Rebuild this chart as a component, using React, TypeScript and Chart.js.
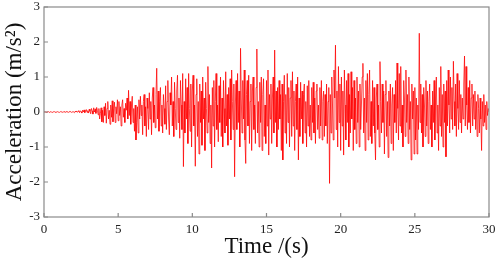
import React, { useEffect, useRef } from "react";
import { Chart, registerables } from "chart.js";

Chart.register(...registerables);

// Sampling interval of the record (s)
const DT = 0.05;

// Acceleration (m/s²), one row per second of record
const acc0_5 = [
  0, 0.01, 0, -0.01, 0.01, 0, 0.01, -0.01, 0, 0.01, 0, -0.01, 0, 0.01, 0.01, 0, -0.01, 0, 0.01, 0,
  0, -0.01, 0.01, 0, 0.01, -0.01, 0, 0.01, 0, -0.01, 0.01, 0, 0, -0.01, 0.01, 0, 0.01, -0.01, 0, 0.01,
  0, -0.02, 0.02, 0, 0.03, -0.01, 0.02, 0.04, -0.02, 0.03, 0.01, -0.03, 0.05, 0, 0.06, -0.02, 0.03, 0.07, -0.01, 0.04,
  -0.03, 0.08, 0.02, -0.05, 0.1, 0.03, -0.06, 0.12, 0, 0.09, -0.04, 0.13, 0.05, -0.08, 0.1, -0.2, -0.05, 0.12, -0.28, 0.05,
  -0.3, 0.15, -0.1, 0.25, -0.32, 0.1, 0.3, -0.2, 0.05, -0.35, 0.2, -0.15, 0.32, -0.28, 0.1, 0.28, -0.3, 0.15, -0.05, 0.35,
];
const acc5_10 = [
  -0.25, 0.3, -0.1, 0.15, -0.4, 0.2, 0.35, -0.15, 0.1, -0.3, 0.25, 0.05, 0.4, -0.2, 0.62, -0.1, 0.3, -0.35, 0.2, 0.45,
  -0.3, 0.1, -0.55, 0.2, -0.8, -0.3, 0.15, -0.6, 0.35, -0.2, 0.45, -0.1, 0.2, -0.65, 0.3, 0.5, -0.4, 0.15, -0.7, 0.4,
  0.1, -0.5, 0.55, -0.2, 0.3, -0.65, 0.4, 0.7, -0.3, 0.2, -0.45, 0.5, 1.25, -0.2, 0.6, -0.55, 0.3, 0.7, -0.4, 0.2,
  -0.6, 0.5, 0.1, -0.35, 0.75, -0.5, 0.3, 0.9, -0.2, -0.65, 0.55, 0.2, 1.0, -0.4, 0.3, -0.7, 0.85, 0.1, -0.5, 0.6,
  1.05, -0.3, 0.4, -0.75, 0.9, 0.2, -0.5, 1.1, -1.56, 0.3, -0.6, 0.95, -0.2, 0.7, -0.9, 1.1, 0.1, -0.55, 0.8, -1.0,
];
const acc10_15 = [
  0.6, 1.05, -0.4, 0.2, -1.55, 0.5, 0.95, -0.7, 0.3, -1.2, 0.8, -0.3, 0.6, -0.95, 1.0, -0.2, 0.4, -1.1, 0.85, 0.1,
  -0.6, 1.3, -0.3, 0.5, -0.9, 0.2, -1.6, 0.7, -0.4, 0.9, -1.0, 0.3, 1.1, -0.5, 0.2, -0.85, 0.75, -0.3, 1.0, -0.7,
  0.4, -1.0, 0.9, 0.1, -0.6, 1.15, -0.4, 0.5, -0.95, 0.7, -0.2, 0.95, -0.8, 1.2, 0.3, -0.5, 0.8, -1.85, 0.2, 0.9,
  -0.5, 1.1, -0.3, 0.6, -1.0, 1.82, 0.4, -0.6, 0.9, -0.2, 1.2, -0.8, -1.47, 0.5, 0.9, -0.4, 1.05, -0.9, 0.3, 0.8,
  -1.1, 0.6, 1.0, -0.5, 0.2, -0.9, 0.7, 1.8, -0.6, 0.3, -1.0, 0.85, -0.3, 1.0, -1.1, 0.5, 0.95, -0.7, 0.2, -0.9,
];
const acc15_20 = [
  0.9, -0.4, 1.2, -1.23, 0.5, -0.2, 0.8, -0.9, 0.4, 1.0, -0.6, 1.77, -0.3, 0.6, -1.0, 0.7, -0.5, 0.9, -0.2, 0.5,
  -1.1, 0.8, -1.37, 0.3, 1.05, -0.6, 0.5, -0.9, 1.1, -0.3, 0.7, -1.0, 0.4, 0.9, -0.7, 1.15, -0.4, 0.6, -1.1, 0.3,
  0.8, -0.5, 1.0, -1.37, 0.4, -0.7, 0.85, -0.2, 0.6, -0.9, 0.5, 0.8, -0.6, 0.3, -1.0, 0.75, -0.4, 0.9, -0.7, 0.2,
  -0.8, 0.7, -0.3, 0.85, -0.6, 0.4, -0.9, 0.6, 0.8, -0.5, 0.2, -0.75, 0.7, -0.4, 0.9, -0.8, 0.3, 0.6, -0.7, 0.5,
  -0.4, 0.8, -0.9, 0.3, 0.7, -2.04, 0.5, -0.6, 1.0, 0.2, -0.8, 1.2, 0.4, 1.91, -0.5, 0.6, -1.0, 1.3, -0.3, 0.8,
];
const acc20_25 = [
  -1.1, 1.0, -0.4, 0.6, -1.23, 1.2, 0.2, -0.8, 0.9, -0.3, 1.1, -1.0, 0.5, -0.6, 1.15, -0.2, 0.7, -1.1, 0.9, -0.5,
  0.4, -0.9, 1.0, -0.3, 0.6, -1.0, 0.8, -0.5, 0.2, 1.0, 1.39, -0.6, 0.4, -1.1, 0.9, -0.3, 1.1, -0.8, 0.5, 1.2,
  -0.7, 0.3, -0.9, 0.9, -0.4, 0.7, -0.6, -1.37, 0.4, 0.8, -0.5, 0.2, -1.0, 1.44, 0.3, -0.6, 0.8, -0.3, 0.6, -1.2,
  0.5, 0.9, -0.7, 0.3, -1.3, 0.6, -0.4, 0.8, -0.9, 0.2, 0.7, -1.1, 0.5, -0.3, 0.9, -0.6, 1.4, 0.1, -0.8, 1.1,
  -0.4, 1.3, -0.6, 0.2, -1.0, 0.9, 0.4, -0.7, 1.2, -0.3, 0.5, -0.9, 1.0, -0.5, 0.3, -1.37, 0.8, -0.2, 0.6, -1.2,
];
const acc25_30 = [
  0.7, -0.8, 0.4, -1.2, 0.2, -0.5, 2.25, -0.3, 0.8, -0.6, 0.5, -1.0, 0.7, 0.2, -0.7, 0.9, -0.4, 0.6, -0.9, 0.3,
  0.8, -0.5, 0.2, -1.0, 0.6, -0.3, 0.9, -0.8, 0.4, 1.0, -0.6, 0.2, -1.1, 0.7, -0.4, 1.3, -0.7, 0.5, -1.0, 0.8,
  -0.3, 0.6, -1.28, 0.9, -0.4, 1.2, 0.2, -0.6, 1.0, -0.2, 0.7, -0.5, 1.45, 0.3, -0.4, 0.8, -0.7, 1.1, 0.1, -0.5,
  0.9, -0.3, 0.5, -0.6, 0.4, -0.2, 0.8, 1.6, -0.4, 1.3, 0.2, -0.5, 0.7, -0.3, 0.9, -0.6, 0.4, 0.8, -0.4, 0.5,
  -0.2, 0.6, -0.5, 0.3, -0.7, 0.5, 0.1, -0.6, 0.4, -0.2, -1.1, 0.3, -0.4, 0.5, -0.3, 0.2, -0.5, 0.3, -0.1, 0.1,
  0,
];

const X_TICKS = [0, 5, 10, 15, 20, 25, 30];
const Y_TICKS = [-3, -2, -1, 0, 1, 2, 3];

const X_TITLE = "Time /(s)";
const Y_TITLE = "Acceleration (m/s\u00B2)";

const acceleration = [...acc0_5, ...acc5_10, ...acc10_15, ...acc15_20, ...acc20_25, ...acc25_30];

const FONT = "'Liberation Serif', 'Times New Roman', serif";

const framePlugin = {
  id: "frameTicks",
  afterDraw(chart: any) {
    const { ctx, chartArea, scales } = chart;
    const { left, right, top, bottom } = chartArea;
    ctx.save();
    ctx.strokeStyle = "#8a8a8a";
    ctx.lineWidth = 1.2;
    ctx.strokeRect(left, top, right - left, bottom - top);
    ctx.beginPath();
    X_TICKS.forEach((v) => {
      const px = scales.x.getPixelForValue(v);
      ctx.moveTo(px, bottom);
      ctx.lineTo(px, bottom - 4);
    });
    Y_TICKS.forEach((v) => {
      const py = scales.y.getPixelForValue(v);
      ctx.moveTo(left, py);
      ctx.lineTo(left + 4, py);
    });
    ctx.stroke();
    ctx.restore();
  },
};

export default function App() {
  const ref = useRef<HTMLCanvasElement | null>(null);

  useEffect(() => {
    if (!ref.current) return;
    const points = acceleration.map((a, i) => ({ x: i * DT, y: a }));
    const chart = new Chart(ref.current, {
      type: "line",
      data: {
        datasets: [
          {
            data: points,
            borderColor: "#ff0000",
            borderWidth: 0.75,
            pointRadius: 0,
            tension: 0,
            fill: false,
          },
        ],
      },
      options: {
        animation: false,
        responsive: false,
        maintainAspectRatio: false,
        events: [],
        layout: { padding: { left: 0, right: 9, top: 7, bottom: 0 } },
        plugins: {
          legend: { display: false },
          tooltip: { enabled: false },
        },
        scales: {
          x: {
            type: "linear",
            min: 0,
            max: 30,
            grid: { display: false, drawTicks: false, tickLength: 0 },
            border: { display: false },
            afterFit: (s: any) => {
              s.height = 41;
              s.paddingLeft = 0;
              s.paddingRight = 0;
            },
            afterBuildTicks: (s: any) => {
              s.ticks = X_TICKS.map((v) => ({ value: v }));
            },
            ticks: {
              padding: 5,
              color: "#222",
              font: { family: FONT, size: 13 },
              maxRotation: 0,
              autoSkip: false,
            },
            title: {
              display: true,
              text: X_TITLE,
              color: "#111",
              font: { family: FONT, size: 23, lineHeight: 1 },
              padding: { top: 0, bottom: 0 },
            },
          },
          y: {
            type: "linear",
            min: -3,
            max: 3,
            grid: { display: false, drawTicks: false, tickLength: 0 },
            border: { display: false },
            afterFit: (s: any) => {
              s.width = 44;
              s.paddingTop = 0;
              s.paddingBottom = 0;
            },
            afterBuildTicks: (s: any) => {
              s.ticks = Y_TICKS.map((v) => ({ value: v }));
            },
            ticks: {
              padding: 4,
              color: "#222",
              font: { family: FONT, size: 13 },
              autoSkip: false,
            },
            title: {
              display: true,
              text: Y_TITLE,
              color: "#111",
              font: { family: FONT, size: 23, lineHeight: 1 },
              padding: { top: 3.5, bottom: 0 },
            },
          },
        },
      },
      plugins: [framePlugin],
    });
    return () => chart.destroy();
  }, []);

  return (
    <div style={{ position: "fixed", left: 0, top: 0, width: 498, height: 258, background: "#fff" }}>
      <canvas ref={ref} width={498} height={258} style={{ width: 498, height: 258, display: "block" }} />
    </div>
  );
}
